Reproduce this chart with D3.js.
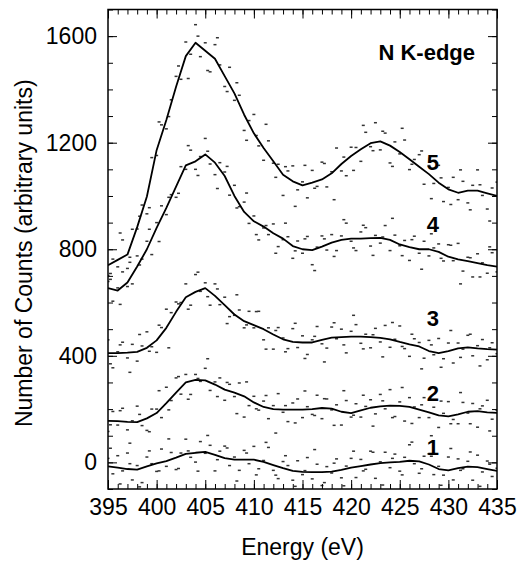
<!DOCTYPE html>
<html>
<head>
<meta charset="utf-8">
<script src="https://cdn.jsdelivr.net/npm/d3@7"></script>
<style>
  body { margin: 0; background: #fff; }
  text { font-family: "Liberation Sans", Arial, sans-serif; fill: #000; }
</style>
</head>
<body>
<svg id="chart" width="521" height="568"></svg>
<script>
// smoothed curves, one value per eV (395..435)
const lineEnergies = d3.range(395, 436, 1);
const line1 = [-15, -20, -25, -27, -15, -4, 5, 18, 32, 36, 39, 28, 16, 10, 10, 10, 2, -10, -22, -32, -36,
  -37, -37, -35, -28, -20, -14, -8, -3, 0, 2, 6, 4, -8, -25, -30, -22, -16, -18, -25, -32];
const line2 = [156, 155, 152, 151, 165, 185, 222, 262, 300, 310, 308, 292, 273, 262, 248, 225, 208, 200, 198, 198, 198,
  200, 204, 202, 190, 185, 195, 205, 210, 213, 212, 208, 198, 188, 176, 173, 180, 190, 192, 188, 186];
const line3 = [410, 410, 412, 415, 430, 458, 505, 565, 620, 640, 654, 625, 590, 555, 530, 515, 500, 480, 462, 452, 450,
  450, 460, 468, 470, 472, 472, 470, 467, 462, 452, 443, 435, 418, 410, 418, 428, 432, 428, 425, 423];
const line4 = [654, 645, 675, 735, 800, 880, 955, 1035, 1115, 1130, 1156, 1125, 1075, 1000, 940, 905, 885, 860, 840, 812, 800,
  797, 810, 825, 835, 840, 840, 842, 843, 835, 818, 808, 800, 800, 790, 772, 762, 755, 748, 740, 735];
const line5 = [740, 760, 780, 883, 998, 1172, 1285, 1410, 1525, 1575, 1545, 1515, 1450, 1385, 1305, 1235, 1180, 1130, 1080, 1055, 1040,
  1050, 1062, 1085, 1120, 1150, 1175, 1198, 1205, 1189, 1165, 1138, 1110, 1082, 1050, 1025, 1012, 1020, 1020, 1010, 1000];

// raw counts, one point every 0.5 eV (395..435)
const dotEnergies = d3.range(395, 435.25, 0.5);
const dots1 = [15, -43, 25, -32, 35, -66, -12, -76, 20, -5, -34, 50, -15, 37, -27, 35, 87, 19, 1, 78, 34, 64, -32, 42, 61, -12,
  20, -30, 45, -5, 60, -24, 7, 56, -30, -61, 3, -12, -67, 6, -46, 18, -62, -7, -87, -16, -40, 13, -58, -14, 15, -57, 11, -26,
  42, -60, 2, 38, -20, 31, -33, 19, 66, -5, -41, 23, 32, -46, -15, -48, 20, -66, 13, -24, 4, -67, 27, -36, 5, -53, -22];
const dots2 = [116, 191, 140, 203, 122, 156, 211, 138, 120, 200, 200, 168, 282, 232, 317, 256, 330, 255, 330, 304, 353, 270,
  302, 317, 233, 293, 247, 298, 170, 213, 248, 196, 230, 164, 213, 258, 188, 153, 223, 238, 168, 209, 180, 252, 164, 238,
  197, 216, 140, 232, 170, 220, 170, 210, 235, 182, 255, 201, 273, 172, 227, 155, 243, 208, 168, 243, 168, 207, 131, 184,
  228, 161, 145, 225, 185, 221, 132, 212, 233, 162, 196];
const dots3 = [460, 355, 415, 451, 392, 443, 380, 437, 490, 434, 413, 506, 575, 562, 602, 600, 670, 590, 705, 642, 674, 590,
  670, 592, 620, 547, 552, 572, 505, 567, 505, 567, 460, 505, 425, 506, 467, 427, 502, 431, 475, 405, 460, 510, 445, 429,
  508, 464, 500, 411, 492, 517, 447, 481, 430, 503, 452, 514, 432, 462, 512, 427, 398, 464, 450, 391, 458, 404, 465, 389,
  448, 373, 448, 425, 477, 400, 438, 461, 385, 449, 408];
const dots4 = [679, 605, 655, 715, 660, 670, 775, 763, 830, 780, 900, 963, 930, 1005, 995, 1110, 1100, 1172, 1100, 1148, 1216,
  1120, 1080, 1125, 1090, 1003, 1040, 960, 977, 897, 925, 835, 880, 855, 895, 810, 836, 847, 766, 831, 785, 848, 742, 808,
  850, 797, 855, 795, 850, 898, 830, 795, 865, 881, 812, 852, 823, 889, 795, 853, 813, 833, 758, 849, 785, 830, 775, 805,
  820, 756, 817, 757, 822, 718, 770, 696, 783, 749, 710, 787, 715];
const dots5 = [701, 763, 734, 835, 728, 875, 876, 966, 933, 1144, 1152, 1267, 1252, 1361, 1449, 1438, 1578, 1532, 1643, 1523,
  1575, 1466, 1568, 1492, 1411, 1483, 1359, 1378, 1246, 1283, 1306, 1188, 1134, 1207, 1123, 1119, 1002, 1094, 1113, 1023,
  1053, 993, 1096, 1036, 1127, 1034, 1091, 1180, 1094, 1076, 1183, 1182, 1130, 1239, 1185, 1275, 1173, 1236, 1124, 1203,
  1158, 1210, 1099, 1137, 1155, 1044, 1114, 1047, 1115, 979, 1032, 1070, 986, 1055, 974, 1040, 1098, 1002, 951, 1030, 1052];

// second pass of raw counts, at 395.25, 396.25 ... 434.25 eV
const dotEnergiesB = d3.range(395.25, 434.5, 1);
const dots1b = [53, -81, -5, -92, 43, -32, 88, -23, 43, -33, 101, 10, 54, -70, 35, -47, 75, -48, 25, -90,
  -31, 48, -76, -3, -88, 42, -32, 38, -85, 15, -47, 76, -24, 23, -86, 52, -30, 39, -90, -7];
const dots2b = [141, 194, 72, 180, 115, 269, 197, 322, 237, 315, 389, 247, 300, 183, 302, 201, 251, 110, 213, 148,
  268, 176, 239, 139, 269, 177, 252, 136, 231, 168, 281, 146, 216, 100, 230, 145, 262, 145, 201, 118];
const dots3b = [370, 441, 338, 480, 417, 515, 430, 595, 575, 714, 622, 651, 521, 629, 516, 566, 425, 495, 415, 522,
  390, 473, 377, 524, 441, 552, 426, 479, 396, 525, 435, 481, 351, 441, 357, 495, 394, 481, 362, 430];
const dots4b = [687, 593, 770, 741, 875, 829, 995, 1010, 1189, 1077, 1168, 1028, 1111, 955, 1011, 855, 889, 785, 898, 794,
  839, 720, 839, 773, 911, 805, 890, 777, 846, 916, 776, 836, 725, 858, 766, 815, 670, 768, 696, 809];
const dots5b = [709, 861, 751, 924, 956, 1278, 1298, 1488, 1441, 1600, 1471, 1594, 1392, 1425, 1209, 1227, 1269, 1070, 1110, 961,
  1115, 1029, 1122, 986, 1146, 1096, 1265, 1170, 1243, 1111, 1254, 1119, 1169, 990, 1068, 968, 1098, 948, 1042, 906];

const seriesNames = ['1', '2', '3', '4', '5'];
const labelEnergy = 428.4;
const labelValues = [59, 261, 542, 894, 1129];

const xMajor = [395, 400, 405, 410, 415, 420, 425, 430, 435];
const xMinor = d3.range(395, 436, 1);
const yMajor = [0, 400, 800, 1200, 1600];
const yMinor = d3.range(-100, 1701, 100);

const svg = d3.select('#chart'),
  margin = {top: 9.5, right: 24, bottom: 79, left: 108},
  width = +svg.attr('width') - margin.left - margin.right,
  height = +svg.attr('height') - margin.top - margin.bottom;

const x = d3.scaleLinear().domain([395, 435]).range([0, width]);
const y = d3.scaleLinear().domain([-100, 1700]).range([height, 0]);

const g = svg.append('g')
  .attr('transform', 'translate(' + margin.left + ',' + margin.top + ')');

const clip = svg.append('clipPath').attr('id', 'plot-clip');
clip.append('rect').attr('width', width).attr('height', height);

const plot = g.append('g').attr('clip-path', 'url(#plot-clip)');

// scatter of raw points
function drawDots(vals, energies) {
  plot.append('g')
    .selectAll('rect')
    .data(vals)
    .enter().append('rect')
    .attr('x', function(d, i) { return x(energies[i]) - 1.5; })
    .attr('y', function(d) { return y(d) - 0.75; })
    .attr('width', 3)
    .attr('height', 1.5)
    .attr('fill', '#333');
}
[dots1, dots2, dots3, dots4, dots5].forEach(function(v) { drawDots(v, dotEnergies); });
[dots1b, dots2b, dots3b, dots4b, dots5b].forEach(function(v) { drawDots(v, dotEnergiesB); });

// smoothed curves
const lineGen = d3.line()
  .x(function(d, i) { return x(lineEnergies[i]); })
  .y(function(d) { return y(d); });

[line1, line2, line3, line4, line5].forEach(function(vals) {
  plot.append('path')
    .datum(vals)
    .attr('fill', 'none')
    .attr('stroke', '#000')
    .attr('stroke-width', 1.8)
    .attr('stroke-linejoin', 'round')
    .attr('d', lineGen);
});

// axes: ticks point inward
function styleAxis(sel) {
  sel.select('.domain').remove();
  sel.selectAll('line').attr('stroke', '#000').attr('stroke-width', 1);
  sel.selectAll('text')
    .style('font-family', '"Liberation Sans", Arial, sans-serif')
    .style('font-size', '23px')
    .attr('fill', '#000');
}

g.append('g')
  .attr('transform', 'translate(0,' + height + ')')
  .call(d3.axisBottom(x).tickValues(xMinor).tickSize(-5).tickFormat(''))
  .call(styleAxis);
g.append('g')
  .attr('transform', 'translate(0,' + height + ')')
  .call(d3.axisBottom(x).tickValues(xMajor).tickSize(-9).tickPadding(10).tickFormat(d3.format('d')))
  .call(styleAxis);
g.append('g')
  .call(d3.axisTop(x).tickValues(xMinor).tickSize(-5).tickFormat(''))
  .call(styleAxis);
g.append('g')
  .call(d3.axisTop(x).tickValues(xMajor).tickSize(-9).tickFormat(''))
  .call(styleAxis);

g.append('g')
  .call(d3.axisLeft(y).tickValues(yMinor).tickSize(-5).tickFormat(''))
  .call(styleAxis);
g.append('g')
  .call(d3.axisLeft(y).tickValues(yMajor).tickSize(-9).tickPadding(11).tickFormat(d3.format('d')))
  .call(styleAxis);
g.append('g')
  .attr('transform', 'translate(' + width + ',0)')
  .call(d3.axisRight(y).tickValues(yMinor).tickSize(-5).tickFormat(''))
  .call(styleAxis);
g.append('g')
  .attr('transform', 'translate(' + width + ',0)')
  .call(d3.axisRight(y).tickValues(yMajor).tickSize(-9).tickFormat(''))
  .call(styleAxis);

// frame
g.append('rect')
  .attr('width', width)
  .attr('height', height)
  .attr('fill', 'none')
  .attr('stroke', '#000')
  .attr('stroke-width', 1.5);

// series numbers
g.selectAll('.series-label')
  .data(seriesNames)
  .enter().append('text')
  .attr('class', 'series-label')
  .attr('x', x(labelEnergy))
  .attr('y', function(d, i) { return y(labelValues[i]); })
  .attr('dy', '0.36em')
  .attr('text-anchor', 'middle')
  .style('font-size', '22px')
  .style('font-weight', 'bold')
  .text(function(d) { return d; });

g.append('text')
  .attr('x', width - 22)
  .attr('y', 50)
  .attr('text-anchor', 'end')
  .style('font-size', '22px')
  .style('font-weight', 'bold')
  .text('N K-edge');

// axis titles
svg.append('text')
  .attr('x', margin.left + width / 2)
  .attr('y', 555)
  .attr('text-anchor', 'middle')
  .style('font-size', '23px')
  .text('Energy (eV)');

svg.append('text')
  .attr('transform', 'translate(32,' + (margin.top + height / 2 + 4) + ')rotate(-90)')
  .attr('text-anchor', 'middle')
  .style('font-size', '23px')
  .text('Number of Counts (arbitrary units)');
</script>
</body>
</html>
